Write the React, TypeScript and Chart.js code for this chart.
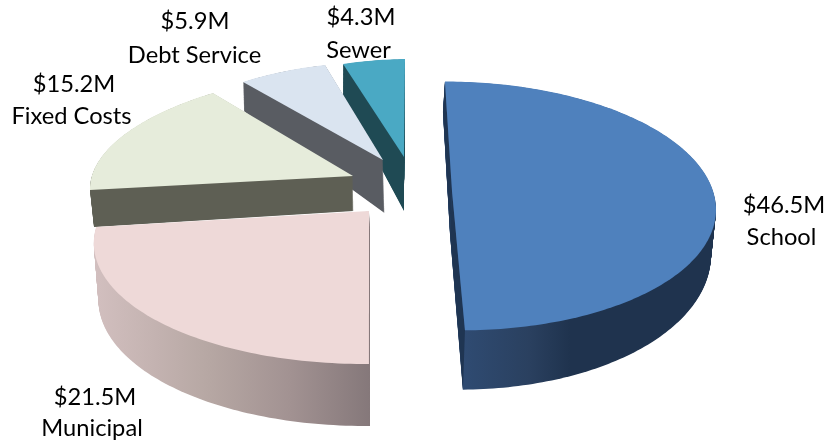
import React, { useEffect, useRef } from "react";
import { Chart, registerables } from "chart.js";

Chart.register(...registerables);

// Budget shares, in millions of dollars
const categories = ["School", "Municipal", "Fixed Costs", "Debt Service", "Sewer"];
const amounts = [46.5, 21.5, 15.2, 5.9, 4.3];

// Colours of the upper faces
const faceColors = ["#4f81bd", "#eed9d8", "#e6ecdb", "#dae4f0", "#4aa9c4"];

// Side wall shading, as [screen x, colour] stops
const wallStops: [number, string][][] = [
  [[463, "#2f4b72"], [530, "#2a405f"], [570, "#1f334e"], [720, "#1f334e"]],
  [[95, "#d2bfbf"], [210, "#b6a7a3"], [290, "#a29292"], [370, "#85787a"]],
  [[90, "#5e5f54"], [360, "#5e5f54"]],
  [[240, "#595c62"], [390, "#595c62"]],
  [[340, "#1f4a54"], [410, "#1f4a54"]],
];

// Colour of the cut faces along a slice's radii, where it differs from the wall
const cutColors = ["#1f3552", null, null, null, null];

// Perspective of each exploded slice: [originX, originY, a, b, c, d, p]
const topViews = [
  [452, 191, 261, 0, 7.9, 122.6, 0.12],
  [369, 211, 265.5, 0.3, -3.6, 114.75, 0.25],
  [353, 176, 261, 0.7, -32.7, 106.7, 0],
  [383, 160, 231, 3.3, -8.3, 98.1, 0],
  [404, 157, 217, -3.3, -1, 98, 0],
];
const bottomViews = [
  [450, 234, 258, 0, 7.9, 137, 0.12],
  [370, 266, 262, 0, -3.5, 120, 0.25],
  [353.5, 211, 257.5, -0.3, -32.4, 114, 0],
  [384.5, 213, 231.4, 16.7, -7.8, 118.1, 0],
  [404, 211, 214, 0, 0, 119, 0],
];

// Far slices are painted first
const paintOrder = [4, 3, 2, 0, 1];

// Label placement: [amount x, amount y, name x, name y]
const labelSpots = [
  [784, 205, 781.5, 237],
  [95, 397, 92, 428],
  [74, 84, 71.5, 116],
  [195, 21, 194.5, 55],
  [361, 17, 358.5, 50],
];

const WALL_LAYERS = 70;

type View = number[];

function mixViews(from: View, to: View, t: number): View {
  return from.map((v, i) => v + (to[i] - v) * t);
}

function project(view: View, angle: number): [number, number] {
  const [ox, oy, a, b, c, d, p] = view;
  const ux = Math.cos(angle);
  const uy = Math.sin(angle);
  const w = 1 - p * uy;
  return [ox + (a * ux + c * uy) / w, oy + (b * ux + d * uy) / w];
}

function traceSlice(ctx: CanvasRenderingContext2D, view: View, start: number, end: number) {
  const steps = Math.max(2, Math.ceil(((end - start) * 180) / Math.PI));
  ctx.beginPath();
  ctx.moveTo(view[0], view[1]);
  for (let i = 0; i <= steps; i++) {
    const [x, y] = project(view, start + ((end - start) * i) / steps);
    ctx.lineTo(x, y);
  }
  ctx.closePath();
}

function fillCut(ctx: CanvasRenderingContext2D, top: View, bottom: View, angle: number) {
  const [tx, ty] = project(top, angle);
  const [bx, by] = project(bottom, angle);
  ctx.beginPath();
  ctx.moveTo(top[0], top[1]);
  ctx.lineTo(tx, ty);
  ctx.lineTo(bx, by);
  ctx.lineTo(bottom[0], bottom[1]);
  ctx.closePath();
  ctx.fill();
}

// Draws the exploded slices in perspective from the angles the pie controller laid out
const extrudedPie = {
  id: "extrudedPie",
  beforeDatasetsDraw(chart: Chart) {
    const ctx = chart.ctx;
    const arcs = chart.getDatasetMeta(0).data as any[];
    ctx.save();
    for (const index of paintOrder) {
      const { startAngle, endAngle } = arcs[index].getProps(["startAngle", "endAngle"], true);
      const top = topViews[index];
      const bottom = bottomViews[index];
      const stops = wallStops[index];
      const x0 = stops[0][0];
      const x1 = stops[stops.length - 1][0];
      const wall = ctx.createLinearGradient(x0, 0, x1, 0);
      for (const [x, color] of stops) wall.addColorStop((x - x0) / (x1 - x0), color);
      ctx.fillStyle = wall;
      for (let layer = WALL_LAYERS; layer > 0; layer--) {
        traceSlice(ctx, mixViews(top, bottom, layer / WALL_LAYERS), startAngle, endAngle);
        ctx.fill();
      }
      const cut = cutColors[index];
      if (cut) {
        ctx.fillStyle = cut;
        fillCut(ctx, top, bottom, startAngle);
        fillCut(ctx, top, bottom, endAngle);
      }
      ctx.fillStyle = faceColors[index];
      traceSlice(ctx, top, startAngle, endAngle);
      ctx.fill();
    }
    ctx.restore();
    return false;
  },
  afterDraw(chart: Chart) {
    const ctx = chart.ctx;
    ctx.save();
    ctx.fillStyle = "#000000";
    ctx.font = '23.7px Lato, "Open Sans", sans-serif';
    ctx.textAlign = "center";
    ctx.textBaseline = "middle";
    categories.forEach((name, i) => {
      const [amountX, amountY, nameX, nameY] = labelSpots[i];
      ctx.fillText(`$${amounts[i].toFixed(1)}M`, amountX, amountY);
      ctx.fillText(name, nameX, nameY);
    });
    ctx.restore();
  },
};

export default function App() {
  const canvasRef = useRef<HTMLCanvasElement>(null);

  useEffect(() => {
    const chart = new Chart(canvasRef.current!, {
      type: "pie",
      data: {
        labels: categories,
        datasets: [{ data: amounts, backgroundColor: faceColors, borderWidth: 0 }],
      },
      options: {
        responsive: false,
        animation: false,
        plugins: { legend: { display: false }, tooltip: { enabled: false } },
      },
      plugins: [extrudedPie],
    } as any);
    return () => chart.destroy();
  }, []);

  return (
    <div style={{ position: "fixed", left: 0, top: 0, width: 827, height: 442, background: "#ffffff" }}>
      <canvas ref={canvasRef} width={827} height={442} style={{ display: "block" }} />
    </div>
  );
}
